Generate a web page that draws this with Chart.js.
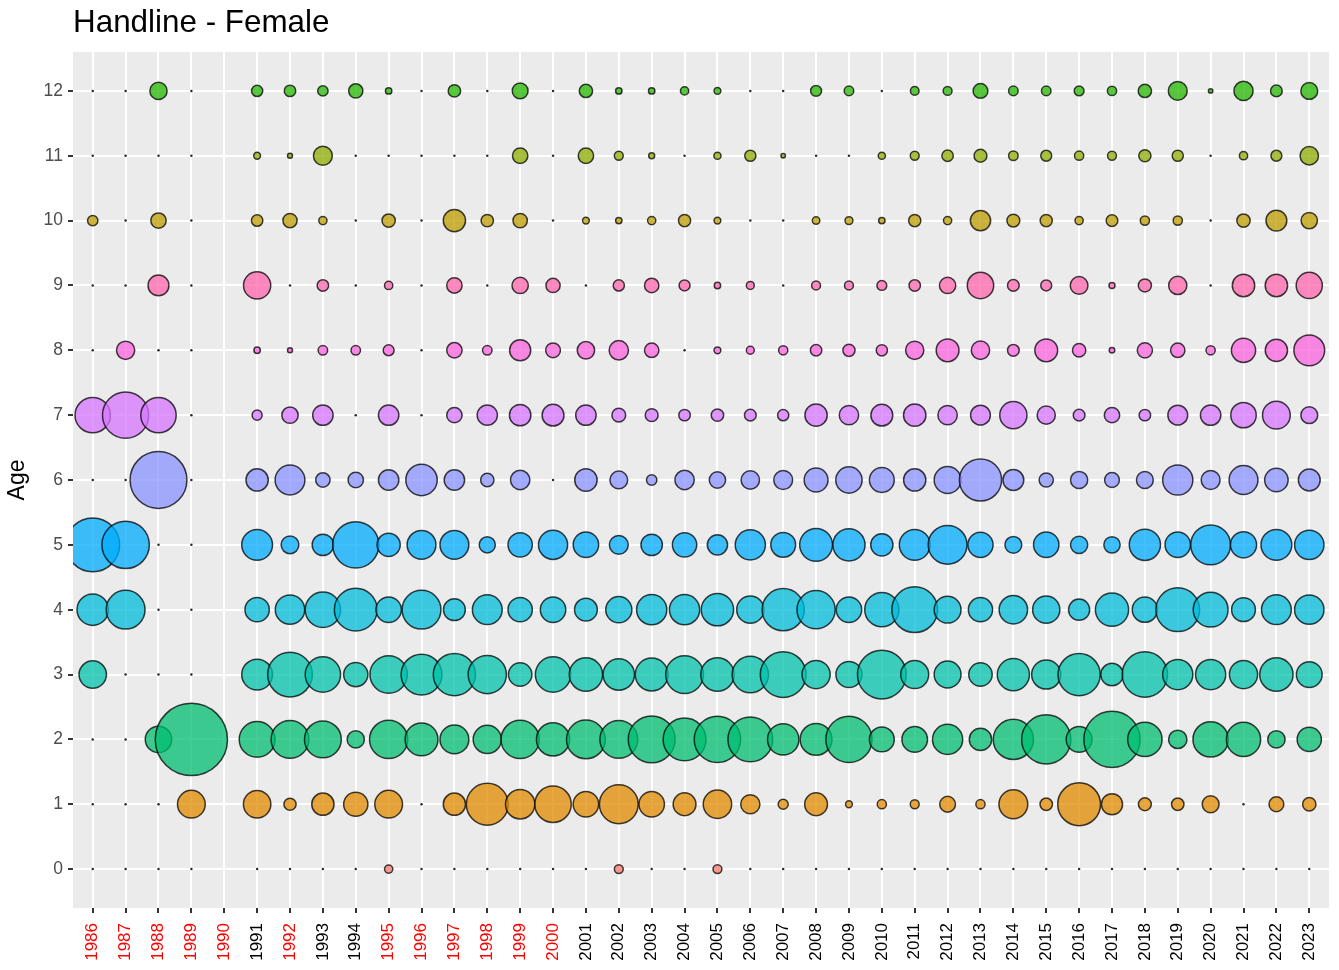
<!DOCTYPE html>
<html>
<head>
<meta charset="utf-8">
<script src="https://cdn.jsdelivr.net/npm/chart.js@4.4.1/dist/chart.umd.min.js"></script>
<style>
html,body{margin:0;padding:0;background:#ffffff;overflow:hidden;}
#wrap{width:1339px;height:970px;}
canvas{display:block;}
</style>
</head>
<body>
<div id="wrap"><canvas id="c" width="1339" height="970"></canvas></div>
<script>
// ---- data ----
const years = [1986,1987,1988,1989,1990,1991,1992,1993,1994,1995,1996,1997,1998,1999,2000,2001,2002,2003,2004,2005,2006,2007,2008,2009,2010,2011,2012,2013,2014,2015,2016,2017,2018,2019,2020,2021,2022,2023];
const redYears = [1986,1987,1988,1989,1990,1992,1995,1996,1997,1998,1999,2000];
const ages = [0,1,2,3,4,5,6,7,8,9,10,11,12];

// relative size (area) per year, one array per age; null = no record
const age0  = [0,0,0,0,null, 0,0,0,0,1.4, 0,0,0,0,0, 0,1.6,0,0,1.6, 0,0,0,0,0, 0,0,0,0,0, 0,0,0,0,0, 0,0,0];
const age1  = [0,0,0,13.1,null, 12.8,2.8,8.6,10.1,13.1, 0,8.6,28.9,14.6,22.1, 11.1,25,11.1,9,13.7, 6.5,2,9,1,1.7, 1.6,4.5,1.7,14.1,2.9, 30.3,7.8,3.1,2.9,5.1, 0,4,3.3];
const age2  = [0,0,11.9,84.2,null, 21.4,23.8,22.6,5.3,24.3, 18.1,14.1,13.5,24.3,18.5, 25,23.8,36,30.3,35.4, 33,16.6,17,35.1,10.6, 11.2,15.4,8.7,26.8,39.7, 11.4,51.5,19.8,6,20.9, 19.6,5.4,10.1];
const age3  = [12.8,0,0,0,null, 16,33,20.9,10.1,23.3, 27.6,29.4,24.3,9.5,20.9, 18.7,16.6,18.1,23.8,18.7, 22.1,34.5,13.5,11.7,39, 13.3,12.3,9.5,17.4,14.4, 29.4,8.7,33.9,15.4,15.4, 13.5,18.7,11.4];
const age4  = [16.6,25,0,0,null, 10.2,14.6,20.9,30.3,11.1, 25,8.3,15,10.2,11.1, 9,11.7,15.4,15.4,17.6, 12.6,29.4,24.3,11.1,19.6, 34.5,12.3,10.1,13.7,12.6, 7.8,18.5,10.9,31.6,20.3, 9.8,15,14.6];
const age5  = [47.3,36.9,0,0,null, 16,5.6,8,35.1,9.3, 14.1,14.1,4.7,10.2,14.4, 11.1,6.3,8,10.2,7.2, 15.4,10.6,18.1,17.4,8.6, 16,25,10.9,5.1,11.1, 5.3,4.8,16.4,11.1,26.3, 11.7,16,14.6];
const age6  = [0,0,52.6,0,null, 8.6,15,3.8,4.3,7.3, 16.6,7.3,3.3,6.6,0, 8.7,5.6,2.1,6.6,4.8, 6,6.3,9.8,11.9,10.6, 8.6,12.3,29.4,7.6,3.7, 5.3,4,5.1,15.4,6.3, 14.1,9.5,8.3];
const age7  = [20.9,35.1,20.9,0,null, 2,4.8,7.3,0,7.3, 0,4.3,7.2,8,8.3, 7.3,3.5,3.1,2.5,2.9, 2.6,2.4,8.6,6.6,8.3, 8.7,6.6,6.9,12.6,5.9, 2.6,4.3,2.5,6.9,7.3, 11.1,13.1,5.1];
const age8  = [0,5.9,0,0,null, 0.9,0.6,1.8,1.8,2.3, 0,4.3,1.8,7.8,4, 5.4,6.6,3.8,0,1, 1.3,1.7,2.5,2.8,2.4, 5.9,9,6,2.6,9, 3.3,0.7,4.2,3.8,1.7, 10.1,8.6,16];
const age9  = [0,0,7.6,0,null, 12.6,0,2.5,0,1.4, 0,4.3,0,4.8,3.7, 0,2.4,3.8,2.3,0.9, 1.3,0,1.6,1.6,1.9, 2.5,4.8,11.9,2.6,2.3, 5.6,0.8,3.2,5.9,0, 8.7,8.7,11.7];
const age10 = [2.1,0,4.3,0,null, 2.5,3.7,1.4,0,3.3, 0,8.6,2.9,3.8,0, 1,0.9,1.4,2.8,1, 0,0,1.2,1.3,0.9, 2.8,1.4,7.2,3.1,2.8, 1.4,2.6,1.7,1.7,0, 3.3,7.6,4.8];
const age11 = [0,0,0,0,null, 1,0.6,6.3,0,0, 0,0,0,4.3,0, 4.3,1.6,0.8,0,1.1, 2.4,0.5,0,0,1.1, 1.6,2.5,3.1,1.8,2.3, 1.7,1.6,2.8,2.4,0, 1.4,2.3,6];
const age12 = [0,0,5.3,0,null, 2.4,2.5,2.1,3.7,0.9, 0,2.9,0,4.5,0, 3.3,0.9,0.9,1.4,1, 0,0,2.3,1.8,0, 1.5,1.6,4,1.8,1.8, 1.9,1.7,3.3,6.3,0.5, 6.5,2.6,5.1];

const sizeRows = [age0,age1,age2,age3,age4,age5,age6,age7,age8,age9,age10,age11,age12];

// ---- styling ----
const ageColors = ['#F8766D','#E18A00','#00BE70','#00C1AB','#00BBDA','#00ACFC','#8B93FF','#D575FE','#F962DD','#FF65AC','#BE9C00','#8CAB00','#24B700'];
const FONT = '"Liberation Sans", Arial, Helvetica, sans-serif';
function rgba(hex, a){
  const n = parseInt(hex.slice(1),16);
  return 'rgba(' + ((n>>16)&255) + ',' + ((n>>8)&255) + ',' + (n&255) + ',' + a + ')';
}
function radiusOf(v){ return v > 0 ? 4*Math.sqrt(v) - 0.6 : 1.25; }

const datasets = ages.map((age, i) => ({
  label: 'Age ' + age,
  data: years.map((yr, j) => ({x: yr, y: age, v: sizeRows[i][j]}))
             .filter(p => p.v !== null)
             .map(p => ({x: p.x, y: p.y, v: p.v, r: radiusOf(p.v)})),
  backgroundColor: ctx => (ctx.raw && ctx.raw.v > 0) ? rgba(ageColors[i], 0.75) : '#2a2a2a',
  borderColor: ctx => (ctx.raw && ctx.raw.v > 0) ? 'rgba(0,0,0,0.75)' : '#2a2a2a',
  borderWidth: ctx => (ctx.raw && ctx.raw.v > 0) ? 1.5 : 0,
  clip: 0
}));

const panelBg = {
  id: 'panelBg',
  beforeDraw(chart){
    const {ctx, chartArea: a} = chart;
    ctx.save();
    ctx.fillStyle = '#EBEBEB';
    ctx.fillRect(a.left, a.top, a.right - a.left, a.bottom - a.top);
    ctx.restore();
  }
};

const gridOpts = {color: '#FFFFFF', lineWidth: 2, tickColor: '#333333', tickWidth: 2, tickLength: 5};

new Chart(document.getElementById('c'), {
  type: 'bubble',
  data: {datasets},
  options: {
    responsive: false,
    animation: false,
    events: [],
    devicePixelRatio: 1,
    layout: {autoPadding: false, padding: {left: 0, right: 10, top: 0, bottom: 0}},
    plugins: {
      legend: {display: false},
      tooltip: {enabled: false},
      title: {
        display: true, text: 'Handline - Female', align: 'start', fullSize: false,
        color: '#000000', font: {family: FONT, size: 31.4, weight: 'normal'},
        padding: {top: 4.6, bottom: 9.7}
      }
    },
    scales: {
      x: {
        type: 'linear', min: 1985.4, max: 2023.6,
        afterBuildTicks: s => { s.ticks = years.map(v => ({value: v})); },
        afterFit: s => { s.height = 62; s.paddingLeft = 0; s.paddingRight = 0; },
        grid: gridOpts,
        border: {display: false},
        ticks: {
          autoSkip: false, minRotation: 90, maxRotation: 90, padding: 10,
          font: {family: FONT, size: 17},
          color: ctx => redYears.includes(ctx.tick.value) ? '#FF0000' : '#000000',
          callback: v => String(v)
        }
      },
      y: {
        type: 'linear', min: -0.6, max: 12.6,
        afterBuildTicks: s => { s.ticks = ages.map(v => ({value: v})); },
        afterFit: s => { s.width = 73; s.paddingTop = 0; s.paddingBottom = 0; },
        grid: gridOpts,
        border: {display: false},
        ticks: {padding: 5, font: {family: FONT, size: 17.5}, color: '#4D4D4D', callback: v => String(v)},
        title: {display: true, text: 'Age', color: '#000000', font: {family: FONT, size: 23}, padding: {top: 4, bottom: 0}}
      }
    }
  },
  plugins: [panelBg]
});
</script>
</body>
</html>
